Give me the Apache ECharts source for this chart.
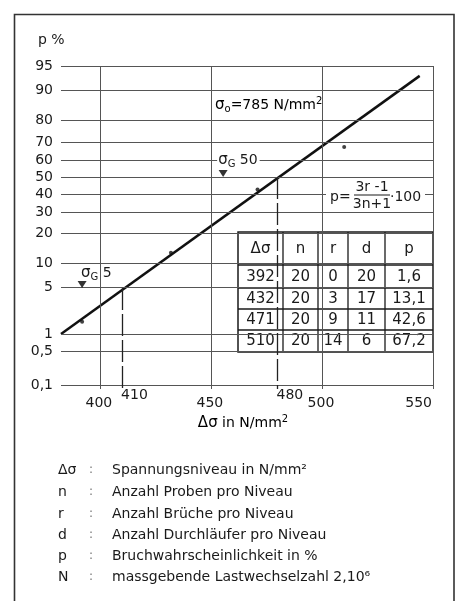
<!DOCTYPE html>
<html><head><meta charset="utf-8">
<script src="https://cdn.jsdelivr.net/npm/echarts@6/dist/echarts.min.js"></script>
<style>html,body{margin:0;padding:0;background:#fff}#c{width:459px;height:601px}</style>
</head><body><div id="c"></div>
<script>
// ---- data ----
const pTicks = [95, 90, 80, 70, 60, 50, 40, 30, 20, 10, 5, 1, 0.5, 0.1];
const pTickLabels = ['95','90','80','70','60','50','40','30','20','10','5','1','0,5','0,1'];
const xGridValues = [400, 450, 500, 550];
const xTickLabels = ['400','450','500','550'];
const xMarkValues = [410, 480];
const xMarkP = [5, 50];
const xMarkLabels = ['410','480'];
const sigmaLevels = [392, 432, 471, 510];
const nValues = [20, 20, 20, 20];
const rValues = [0, 3, 9, 14];
const dValues = [20, 17, 11, 6];
const pValues = [1.6, 13.1, 42.6, 67.2];
const pLabels = ['1,6', '13,1', '42,6', '67,2'];
const tableHeaders = ['Δσ', 'n', 'r', 'd', 'p'];
const fitX = [382.5, 544];
const fitP = [1, 93.3];
const sigmaGX = [392, 455.5];
const sigmaGP = [5, 50];
const sigmaGLabels = ['5', '50'];
const legendSymbols = ['Δσ', 'n', 'r', 'd', 'p', 'N'];
const legendTexts = ['Spannungsniveau in N/mm²', 'Anzahl Proben pro Niveau', 'Anzahl Brüche pro Niveau',
  'Anzahl Durchläufer pro Niveau', 'Bruchwahrscheinlichkeit in %', 'massgebende Lastwechselzahl 2,10⁶'];

// ---- normal probability scale ----
function probit(p){
  const a=[-3.969683028665376e+01,2.209460984245205e+02,-2.759285104469687e+02,1.383577518672690e+02,-3.066479806614716e+01,2.506628277459239e+00];
  const b=[-5.447609879822406e+01,1.615858368580409e+02,-1.556989798598866e+02,6.680131188771972e+01,-1.328068155288572e+01];
  const c=[-7.784894002430293e-03,-3.223964580411365e-01,-2.400758277161838e+00,-2.549732539343734e+00,4.374664141464968e+00,2.938163982698783e+00];
  const d=[7.784695709041462e-03,3.224671290700398e-01,2.445134137142996e+00,3.754408661907416e+00];
  const pl=0.02425, ph=1-pl; let q,r;
  if(p<pl){q=Math.sqrt(-2*Math.log(p));return (((((c[0]*q+c[1])*q+c[2])*q+c[3])*q+c[4])*q+c[5])/((((d[0]*q+d[1])*q+d[2])*q+d[3])*q+1);}
  if(p<=ph){q=p-0.5;r=q*q;return (((((a[0]*r+a[1])*r+a[2])*r+a[3])*r+a[4])*r+a[5])*q/(((((b[0]*r+b[1])*r+b[2])*r+b[3])*r+b[4])*r+1);}
  q=Math.sqrt(-2*Math.log(1-p));return -(((((c[0]*q+c[1])*q+c[2])*q+c[3])*q+c[4])*q+c[5])/((((d[0]*q+d[1])*q+d[2])*q+d[3])*q+1);
}
const z = p => probit(p / 100);

const FONT = 'DejaVu Sans';
const INK = '#1a1a1a';
const GRID = '#555';
const yMax = z(95);
const yMin = z(0.1) - 0.05;
const xMin = 382.5, xMax = 550;

const chart = echarts.init(document.getElementById('c'), null, {renderer: 'canvas'});

// gridlines as markLines
const mlData = [];
pTicks.forEach((p, i) => {
  mlData.push({yAxis: z(p), label: {show: true, position: 'start', distance: 8, formatter: pTickLabels[i],
    fontSize: 14, color: INK, fontFamily: FONT}});
});
xGridValues.forEach(v => mlData.push({xAxis: v, label: {show: false}}));
xMarkValues.forEach((v, i) => mlData.push([
  {coord: [v, z(xMarkP[i])], lineStyle: {type: [22, 4], width: 1.3, color: '#222'}},
  {coord: [v, yMin]}
]));

const plainLabel = {color: INK, fontSize: 14, fontFamily: FONT, textBorderWidth: 0, textBorderColor: 'transparent', opacity: 1};

// x labels
const xLabelData = [];
xGridValues.forEach((v, i) => xLabelData.push({value: [v, yMin], label: Object.assign({show: true, formatter: xTickLabels[i],
  position: [0, 15], align: i === xGridValues.length - 1 ? 'right' : 'center', verticalAlign: 'middle'}, plainLabel)}));
xMarkValues.forEach((v, i) => xLabelData.push({value: [v, yMin], label: Object.assign({show: true, formatter: xMarkLabels[i],
  position: [0, 7], align: 'left', verticalAlign: 'middle'}, plainLabel)}));

const richSub = {
  g: {fontSize: 15, fontFamily: FONT, color: INK, lineHeight: 18},
  s: {fontSize: 10, fontFamily: FONT, color: INK, lineHeight: 12, verticalAlign: 'bottom'},
  t: {fontSize: 14, fontFamily: FONT, color: INK, lineHeight: 18},
  sup: {fontSize: 10, fontFamily: FONT, color: INK, lineHeight: 12, verticalAlign: 'top'}
};

const sgOffsets = [[2.5, -8], [-1.5, -10]];
const sgData = sigmaGX.map((x, i) => ({value: [x, z(sigmaGP[i])], label: Object.assign({show: true,
  formatter: '{g|σ}{s|G}{t| ' + sigmaGLabels[i] + '}', position: sgOffsets[i], align: 'left', verticalAlign: 'middle',
  backgroundColor: i === 1 ? '#fff' : 'transparent', padding: [0, 2, 0, 1], rich: richSub}, plainLabel)}));

// table graphic
const colX = [238, 283, 318, 348, 385, 433];
const rowY = [232, 265, 288, 309, 330, 352];
const tableEls = [{type: 'rect', shape: {x: colX[0], y: rowY[0], width: colX[5] - colX[0], height: rowY[5] - rowY[0]},
  style: {fill: '#fff', stroke: INK, lineWidth: 1.5}}];
rowY.slice(1, -1).forEach(y => tableEls.push({type: 'line', shape: {x1: colX[0], y1: y, x2: colX[5], y2: y}, style: {stroke: INK, lineWidth: 1.3}}));
colX.slice(1, -1).forEach(x => tableEls.push({type: 'line', shape: {x1: x, y1: rowY[0], x2: x, y2: rowY[5]}, style: {stroke: INK, lineWidth: 1.3}}));
const rows = [tableHeaders].concat(sigmaLevels.map((s, i) => [String(s), String(nValues[i]), String(rValues[i]), String(dValues[i]), pLabels[i]]));
rows.forEach((row, r) => row.forEach((t, c) => tableEls.push({type: 'text', style: {text: t,
  x: (colX[c] + colX[c + 1]) / 2, y: (rowY[r] + rowY[r + 1]) / 2 + 0.5, align: 'center', verticalAlign: 'middle',
  font: '15px ' + FONT, fill: INK}})));

const legendY = [470, 492, 514, 535, 556, 577];
const legendEls = [];
legendSymbols.forEach((s, i) => {
  legendEls.push({type: 'text', style: {text: s, x: 58, y: legendY[i], verticalAlign: 'middle', font: '14px ' + FONT, fill: INK}});
  legendEls.push({type: 'text', style: {text: ':', x: 89, y: legendY[i], verticalAlign: 'middle', font: '12px ' + FONT, fill: '#777'}});
  legendEls.push({type: 'text', style: {text: legendTexts[i], x: 112, y: legendY[i], verticalAlign: 'middle', font: '14px ' + FONT, fill: INK}});
});

chart.setOption({
  animation: false,
  backgroundColor: '#fff',
  textStyle: {fontFamily: FONT},
  grid: {left: 61, right: 26, top: 66, bottom: 212, containLabel: false},
  xAxis: {type: 'value', min: xMin, max: xMax, show: false},
  yAxis: {type: 'value', min: yMin, max: yMax, show: false},
  series: [
    {
      type: 'scatter', name: 'Messwerte', z: 2,
      data: sigmaLevels.map((s, i) => [s, z(pValues[i])]),
      symbol: 'circle', symbolSize: 4, itemStyle: {color: '#111'},
      markLine: {silent: true, symbol: 'none', animation: false,
        lineStyle: {color: GRID, width: 1, type: 'solid'}, data: mlData}
    },
    {
      type: 'line', name: 'Ausgleichsgerade', z: 4,
      data: fitX.map((x, i) => [x, z(fitP[i])]),
      symbol: 'none', lineStyle: {color: '#111', width: 2.5}
    },
    {
      type: 'scatter', name: 'xlabels', z: 3, silent: true,
      data: xLabelData, symbolSize: 2, itemStyle: {color: 'rgba(0,0,0,0)'},
      label: plainLabel
    },
    {
      type: 'scatter', name: 'sigmaG', z: 6, silent: true,
      data: sgData, symbol: 'triangle', symbolRotate: 180, symbolSize: [9, 7], symbolOffset: [0, -3.5],
      itemStyle: {color: '#000'},
      label: plainLabel
    }
  ],
  graphic: [
    {type: 'rect', z: 100, silent: true, shape: {x: 14.5, y: 14.5, width: 439.5, height: 600}, style: {fill: 'none', stroke: '#333', lineWidth: 1.6}},
    {type: 'text', z: 100, style: {text: 'p %', x: 38, y: 40, verticalAlign: 'middle', font: '14px ' + FONT, fill: INK}},
    {type: 'text', z: 100, style: {text: '{g|σ}{s|o}{t|=785 N/mm}{sup|2}', x: 215, y: 105, verticalAlign: 'middle', rich: richSub}},
    {type: 'text', z: 100, style: {text: '{g|Δσ}{t| in N/mm}{sup|2}', x: 243, y: 423, align: 'center', verticalAlign: 'middle', rich: richSub}},
    {type: 'group', z: 100, children: [
      {type: 'rect', z: 100, shape: {x: 326, y: 182, width: 99, height: 28}, style: {fill: '#fff'}},
      {type: 'text', z: 101, style: {text: 'p=', x: 330, y: 197, verticalAlign: 'middle', font: '14px ' + FONT, fill: INK}},
      {type: 'line', z: 101, shape: {x1: 354, y1: 195, x2: 390, y2: 195}, style: {stroke: INK, lineWidth: 1.2}},
      {type: 'text', z: 101, style: {text: '3r -1', x: 372, y: 187, align: 'center', verticalAlign: 'middle', font: '14px ' + FONT, fill: INK}},
      {type: 'text', z: 101, style: {text: '3n+1', x: 372, y: 204, align: 'center', verticalAlign: 'middle', font: '14px ' + FONT, fill: INK}},
      {type: 'text', z: 101, style: {text: '·100', x: 390, y: 197, verticalAlign: 'middle', font: '14px ' + FONT, fill: INK}}
    ]},
    {type: 'group', z: 100, children: tableEls},
    {type: 'group', z: 100, children: legendEls}
  ]
});
</script>
</body></html>
